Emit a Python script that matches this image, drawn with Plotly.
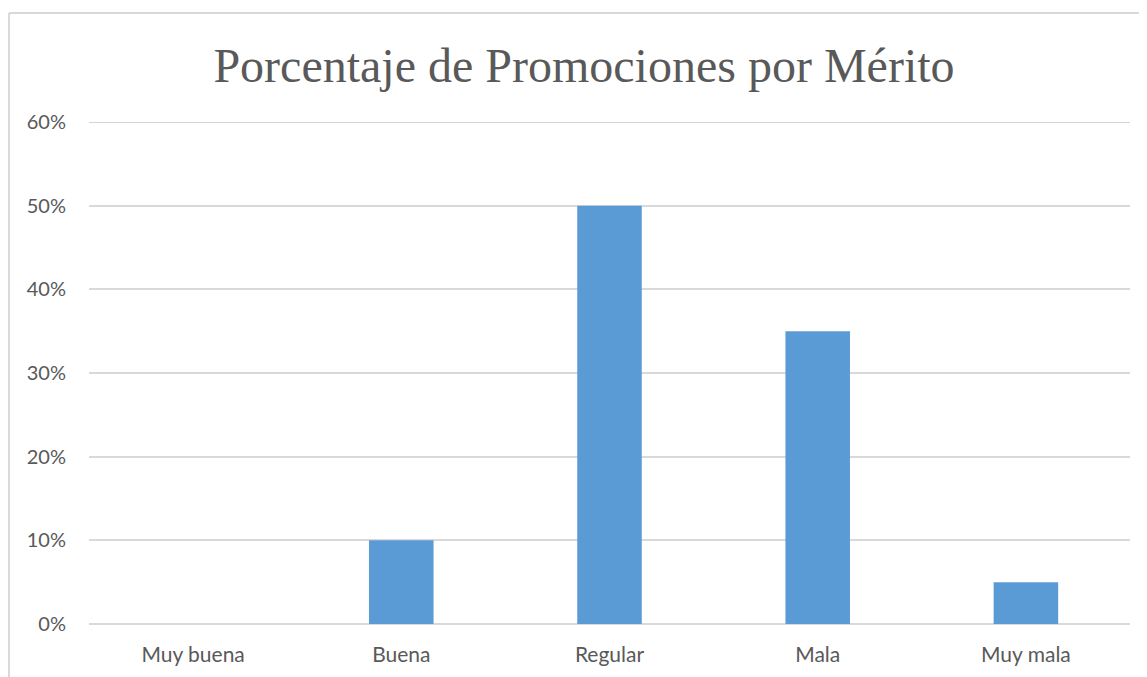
import plotly.graph_objects as go

categories = ["Muy buena", "Buena", "Regular", "Mala", "Muy mala"]
values = [0.0, 0.10, 0.50, 0.35, 0.05]
title_text = "Porcentaje de Promociones por Mérito"

W, H = 1147, 677
OFF = 8  # page body offset
L, T = 89 - OFF, 122 - OFF
R = W - (1130 - OFF)
B = H - (624 - OFF)
pw = W - L - R
ph = H - T - B

fig = go.Figure(go.Bar(x=categories, y=values, marker=dict(color="#5b9bd5", line=dict(width=0)),
                       hoverinfo="x+y"))

bx = (0 - L) / pw + 0.001
by = (H - B - 5) / ph

fig.update_layout(
    width=W, height=H,
    margin=dict(l=L, r=R, t=T, b=B),
    paper_bgcolor="white", plot_bgcolor="white",
    bargap=0.69,
    showlegend=False,
    title=dict(text=title_text, x=(584 - OFF) / W, xanchor="center", xref="container",
               y=1 - (65 - OFF) / H, yanchor="middle",
               font=dict(family="Liberation Serif, Times New Roman, serif", size=48, color="#595959")),
    xaxis=dict(showgrid=False, showline=False, zeroline=False, ticks="", ticklabelstandoff=16,
               tickfont=dict(family="Lato, sans-serif", size=21, color="#595959")),
    yaxis=dict(range=[0, 0.6], dtick=0.1, tickformat=".0%", showgrid=True, gridcolor="#d9d9d9",
               gridwidth=1.5, zeroline=True, zerolinecolor="#d9d9d9", zerolinewidth=1.5,
               showline=False, ticks="", ticklen=0, ticklabelstandoff=22,
               tickfont=dict(family="Lato, sans-serif", size=20, color="#595959")),
    shapes=[
        dict(type="line", xref="paper", yref="y", x0=0, x1=1, y0=0.6, y1=0.6,
             line=dict(color="#d4d4d4", width=2), layer="below"),
        dict(type="line", xref="paper", yref="paper", x0=bx, x1=bx, y0=-1, y1=by,
             line=dict(color="#d9d9d9", width=2)),
        dict(type="line", xref="paper", yref="paper", x0=bx, x1=2, y0=by, y1=by,
             line=dict(color="#d9d9d9", width=2)),
    ],
)

fig.write_html("out.html")
